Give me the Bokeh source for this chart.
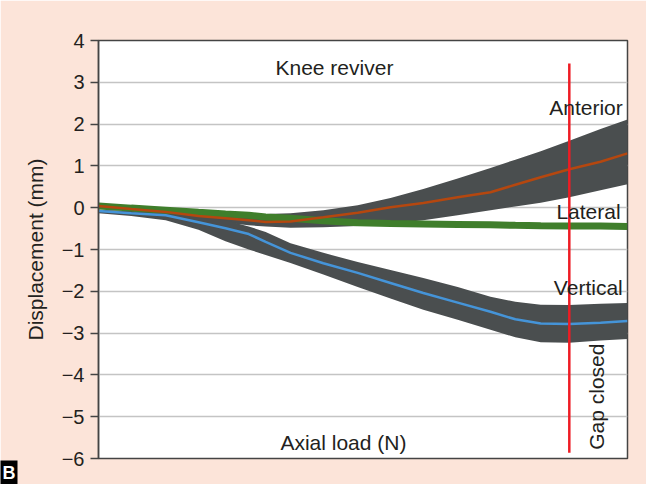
from bokeh.plotting import figure
from bokeh.models import Range1d, FixedTicker, CustomJSTickFormatter, Title
from bokeh.core.properties import value
from bokeh.embed import file_html
from bokeh.resources import INLINE

# x positions as % of the axial-load span
load = [0, 6.2, 12.7, 18.9, 24.0, 28.4, 31.6, 36.3, 42.5, 49.0, 55.2, 61.4, 67.9, 74.1, 78.8, 83.6, 89.0, 94.9, 100]

vertical = [-0.08, -0.13, -0.18, -0.35, -0.49, -0.63, -0.82, -1.08, -1.33, -1.56, -1.80, -2.04, -2.27, -2.49, -2.67, -2.77, -2.78, -2.75, -2.71]
vertical_hi = [-0.05, -0.08, -0.12, -0.20, -0.30, -0.45, -0.58, -0.85, -1.08, -1.30, -1.49, -1.68, -1.90, -2.13, -2.25, -2.32, -2.33, -2.30, -2.28]
vertical_lo = [-0.13, -0.20, -0.30, -0.53, -0.80, -1.00, -1.13, -1.32, -1.60, -1.90, -2.17, -2.44, -2.68, -2.92, -3.10, -3.22, -3.23, -3.18, -3.14]

anterior = [0.04, -0.03, -0.10, -0.20, -0.25, -0.30, -0.34, -0.33, -0.23, -0.12, 0.01, 0.11, 0.25, 0.37, 0.55, 0.73, 0.92, 1.10, 1.30]
anterior_hi = [0.08, 0.04, -0.02, -0.08, -0.12, -0.14, -0.15, -0.13, -0.06, 0.06, 0.23, 0.45, 0.70, 0.95, 1.15, 1.35, 1.60, 1.88, 2.11]
anterior_lo = [0.00, -0.08, -0.16, -0.28, -0.36, -0.42, -0.45, -0.48, -0.47, -0.44, -0.38, -0.30, -0.18, -0.06, 0.03, 0.12, 0.25, 0.42, 0.56]

lateral = [0.04, -0.01, -0.06, -0.11, -0.15, -0.18, -0.22, -0.25, -0.31, -0.36, -0.38, -0.39, -0.40, -0.41, -0.42, -0.43, -0.44, -0.44, -0.45]

y_ticks = [-6, -5, -4, -3, -2, -1, 0, 1, 2, 3, 4]
gap_closed_at = 89.0
gap_line = [3.45, -5.86]

FONT = "Liberation Sans"
TXT = "#231f20"
BG = "#fce4d9"
BAND = "#4a4e4f"

p = figure(width=646, height=484, output_backend="svg", toolbar_location=None,
           x_range=Range1d(0, 100), y_range=Range1d(-6, 4),
           min_border_left=98, min_border_right=19, min_border_top=40, min_border_bottom=25)
p.border_fill_color = BG
p.background_fill_color = "white"
p.outline_line_color = "#444444"
p.outline_line_width = 1.5

p.xaxis.visible = False
p.xgrid.visible = False
p.ygrid.grid_line_color = "#c4c4c4"
p.ygrid.grid_line_width = 1.5

ax = p.yaxis[0]
ax.ticker = FixedTicker(ticks=y_ticks, minor_ticks=[])
ax.formatter = CustomJSTickFormatter(code="return tick < 0 ? '\u2212' + Math.abs(tick) : String(tick);")
ax.axis_line_color = "#444444"
ax.axis_line_width = 1.5
ax.major_tick_line_color = "#444444"
ax.major_tick_line_width = 1.5
ax.major_tick_out = 8
ax.major_tick_in = 0
ax.minor_tick_line_color = None
ax.major_label_standoff = 6
ax.major_label_text_font = FONT
ax.major_label_text_font_size = "20px"
ax.major_label_text_color = TXT
ax.axis_label = "Displacement (mm)"
ax.axis_label_text_font = FONT
ax.axis_label_text_font_size = "21px"
ax.axis_label_text_font_style = "normal"
ax.axis_label_text_color = TXT
ax.axis_label_standoff = 12

# bands
p.varea(x=load, y1=anterior_lo, y2=anterior_hi, fill_color=BAND)
p.varea(x=load, y1=vertical_lo, y2=vertical_hi, fill_color=BAND)
# lateral (thick green)
p.line(load, lateral, line_color="#3f7e2b", line_width=7)
# mean lines
p.line(load, anterior, line_color="#b5470f", line_width=2.5)
p.line(load, vertical, line_color="#4594d8", line_width=2.5)

# gap closed line
p.line([gap_closed_at, gap_closed_at], gap_line, line_color="#ee1c24", line_width=2.5)

tf = value(FONT)
p.text(x=[44.6], y=[3.36], text=["Knee reviver"], text_font=tf, text_font_size="21px",
       text_color=TXT, text_align="center", text_baseline="middle")
p.text(x=[99.1, 98.7, 99.1], y=[2.40, -0.10, -1.92], text=["Anterior", "Lateral", "Vertical"],
       text_font=tf, text_font_size="21px", text_color=TXT, text_align="right", text_baseline="middle")
p.text(x=[94.1], y=[-4.52], text=["Gap closed"], angle=1.5708, text_font=tf, text_font_size="21px",
       text_color=TXT, text_align="center", text_baseline="middle")
p.text(x=[46.3], y=[-5.62], text=["Axial load (N)"], text_font=tf, text_font_size="21px",
       text_color=TXT, text_align="center", text_baseline="middle")

p.add_layout(Title(text="B", align="left", offset=-98, standoff=0, text_font=FONT,
                   text_font_size="18px", text_font_style="bold", text_color="white",
                   background_fill_color="black", padding=2), "below")

open("out.html", "w").write(file_html(p, INLINE))
